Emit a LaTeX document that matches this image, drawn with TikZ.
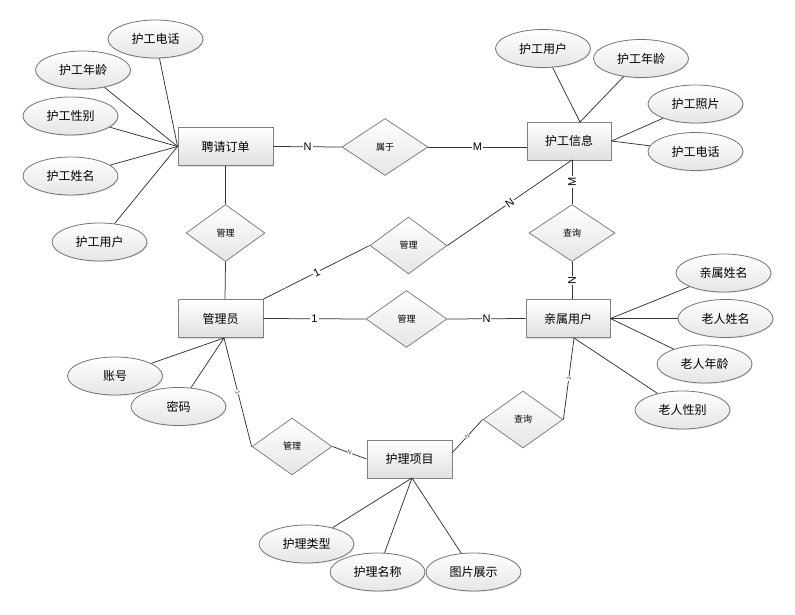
\documentclass[tikz,border=0pt]{standalone}
\usepackage{fontspec}
\setmainfont{Liberation Sans}
\newfontfamily\cjk{Noto Sans CJK SC}
\usetikzlibrary{shapes.geometric,shadows}
\begin{document}
\begin{tikzpicture}[x=1pt,y=-1pt,
  ent/.style={rectangle, draw=black!50, line width=0.9pt, minimum height=38pt, inner sep=0pt,
    top color=white, bottom color=black!12,
    drop shadow={shadow xshift=1.2pt, shadow yshift=-1.2pt, opacity=0.25},
    font=\cjk\fontsize{12}{14}\selectfont},
  attr/.style={ellipse, draw=black!55, line width=0.8pt, minimum width=95pt, minimum height=38pt, inner sep=0pt,
    top color=white, bottom color=black!10,
    drop shadow={shadow xshift=0.8pt, shadow yshift=-1pt, opacity=0.2},
    font=\cjk\fontsize{12}{14}\selectfont},
  rel/.style={diamond, draw=black!50, line width=0.8pt, minimum height=57pt, inner sep=0pt,
    top color=white, bottom color=black!10,
    font=\cjk\fontsize{9}{10}\selectfont},
  ln/.style={draw=black!80, line width=0.75pt},
  lab/.style={fill=white, inner sep=1pt, font=\fontsize{11}{12}\selectfont, text=black},
  tinylab/.style={fill=white, inner sep=0.4pt, font=\fontsize{6}{6}\selectfont, text=black!75, sloped}
]
\useasboundingbox (0,0) rectangle (795,615);

% entities
\node[ent, minimum width=95pt] (pq) at (225.5,146.5) {聘请订单};
\node[ent, minimum width=84pt] (hx) at (569,141) {护工信息};
\node[ent, minimum width=85pt] (gly) at (220.5,318.5) {管理员};
\node[ent, minimum width=84pt] (qs) at (568,318.5) {亲属用户};
\node[ent, minimum width=85pt] (hl) at (409.5,459) {护理项目};

% relationships
\node[rel, minimum width=86pt] (sy) at (385,147) {属于};
\node[rel, minimum width=79pt] (gl1) at (225.5,233) {管理};
\node[rel, minimum width=77pt] (gl2) at (408.5,245.5) {管理};
\node[rel, minimum width=86pt] (cx1) at (572,233) {查询};
\node[rel, minimum width=81pt] (gl3) at (406.5,319) {管理};
\node[rel, minimum width=80pt] (gl4) at (292,446.5) {管理};
\node[rel, minimum width=80pt] (cx2) at (523,419.5) {查询};

% attributes
\node[attr] (a1) at (155.5,39) {护工电话};
\node[attr] (a2) at (83,70) {护工年龄};
\node[attr] (a3) at (70.5,116) {护工性别};
\node[attr] (a4) at (70.5,176) {护工姓名};
\node[attr] (a5) at (99.5,242) {护工用户};

\node[attr] (b1) at (543,48.5) {护工用户};
\node[attr] (b2) at (641,58.5) {护工年龄};
\node[attr] (b3) at (695.5,104) {护工照片};
\node[attr] (b4) at (695.5,151.5) {护工电话};

\node[attr] (c1) at (723.5,273) {亲属姓名};
\node[attr] (c2) at (725.5,318.5) {老人姓名};
\node[attr] (c3) at (704.5,364) {老人年龄};
\node[attr] (c4) at (682.5,410) {老人性别};

\node[attr] (d1) at (115,376) {账号};
\node[attr] (d2) at (178.5,406.5) {密码};

\node[attr] (e1) at (306.5,544) {护理类型};
\node[attr] (e2) at (377.5,572) {护理名称};
\node[attr] (e3) at (473.5,572) {图片展示};

% anchor points
\coordinate (hxtop) at (580,122);
\coordinate (hxbot) at (572,160);
\coordinate (qsbot) at (574,338);
\coordinate (glybot) at (224,338);
\coordinate (glytop) at (225,299);
\coordinate (hlbot) at (412,478);
\coordinate (hlne) at (452,453);

% attribute lines
\foreach \a in {a1,a2,a3,a4,a5} \draw[ln] (\a) -- (pq.west);
\draw[ln] (b1) -- (hxtop);
\draw[ln] (b2) -- (hxtop);
\draw[ln] (b3) -- (hx.east);
\draw[ln] (b4) -- (hx.east);
\draw[ln] (c1) -- (qs.east);
\draw[ln] (c2) -- (qs.east);
\draw[ln] (c3) -- (qs.east);
\draw[ln] (c4) -- (qsbot);
\draw[ln] (d1) -- (glybot);
\draw[ln] (d2) -- (glybot);
\draw[ln] (e1) -- (hlbot);
\draw[ln] (e2) -- (hlbot);
\draw[ln] (e3) -- (hlbot);

% relationship lines
\draw[ln] (pq.east) -- node[lab]{N} (sy.west);
\draw[ln] (sy.east) -- node[lab]{M} (sy.east -| hx.west);
\draw[ln] (pq.south) -- (gl1.north);
\draw[ln] (gl1.south) -- (glytop);
\draw[ln] (gly.north east) -- node[lab, sloped]{1} (gl2.west);
\draw[ln] (gl2.east) -- node[lab, sloped]{N} (hxbot);
\draw[ln] (hxbot) -- node[lab, rotate=90]{M} (cx1.north);
\draw[ln] (cx1.south) -- node[lab, rotate=90]{N} (cx1.south |- qs.north);
\draw[ln] (gly.east) -- node[lab]{1} (gl3.west);
\draw[ln] (gl3.east) -- node[lab]{N} (qs.west);
\draw[ln] (glybot) -- node[tinylab]{1} (gl4.west);
\draw[ln] (gl4.east) -- node[tinylab]{N} (hl.west);
\draw[ln] (hlne) -- node[tinylab]{N} (cx2.west);
\draw[ln] (cx2.east) -- node[tinylab]{1} (qsbot);
\end{tikzpicture}
\end{document}
